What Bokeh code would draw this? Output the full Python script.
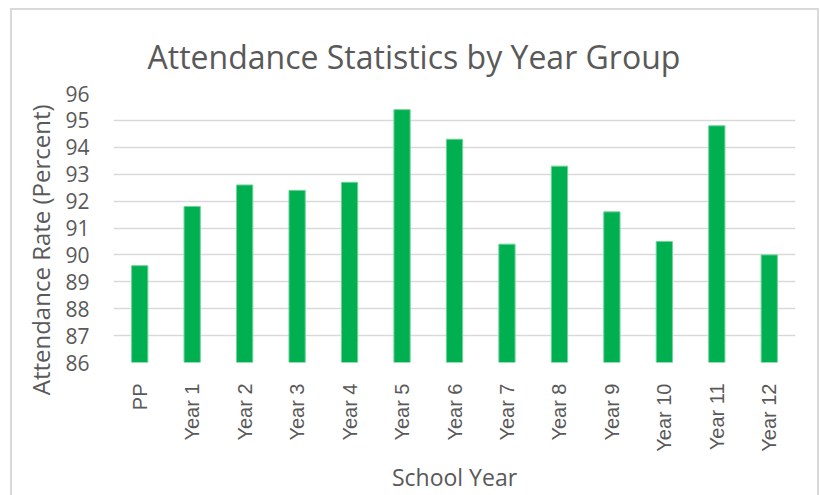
from math import pi
from bokeh.plotting import figure
from bokeh.models import ColumnDataSource, FixedTicker, Range1d, LinearAxis
from bokeh.embed import file_html
from bokeh.resources import INLINE

categories = ["PP", "Year 1", "Year 2", "Year 3", "Year 4", "Year 5", "Year 6",
              "Year 7", "Year 8", "Year 9", "Year 10", "Year 11", "Year 12"]
attendance = [89.6, 91.8, 92.6, 92.4, 92.7, 95.4, 94.3, 90.4, 93.3, 91.6, 90.5, 94.8, 90.0]
y_ticks = [86, 87, 88, 89, 90, 91, 92, 93, 94, 95, 96]

title_text = "Attendance Statistics by Year Group"
x_label = "School Year"
y_label = "Attendance Rate (Percent)"

TXT = "#595959"
GRID = "#d9d9d9"

source = ColumnDataSource(dict(cat=categories, val=attendance))

p = figure(x_range=categories, y_range=Range1d(86, 96),
           frame_width=682, frame_height=269,
           output_backend="svg", toolbar_location=None,
           min_border_left=113, min_border_right=25, min_border_top=93, min_border_bottom=133)

p.vbar(x="cat", top="val", bottom=86, width=0.31, source=source,
       fill_color="#00B050", line_color="#6fd39a", line_width=1)

p.outline_line_color = None
p.background_fill_color = "white"
p.border_fill_color = None
p.styles = {
    "background-color": "white",
    "background-image": ("linear-gradient(#d9d9d9,#d9d9d9), linear-gradient(#d9d9d9,#d9d9d9), "
                         "linear-gradient(#d9d9d9,#d9d9d9)"),
    "background-size": "2px 490px, 809px 2px, 2px 490px",
    "background-position": "10px 8px, 10px 8px, 817px 8px",
    "background-repeat": "no-repeat",
}

p.title.text = title_text
p.title.align = "left"
p.title.offset = 34
p.title.text_font = "Open Sans"
p.title.text_font_size = "32px"
p.title.text_font_style = "normal"
p.title.text_color = TXT
p.title.standoff = 32

p.xgrid.grid_line_color = None
p.ygrid.grid_line_color = GRID
p.ygrid.grid_line_width = 1.5

p.yaxis.ticker = FixedTicker(ticks=y_ticks)
p.yaxis.axis_line_color = None
p.yaxis.major_tick_line_color = None
p.yaxis.minor_tick_line_color = None
p.yaxis.major_label_text_font = "Open Sans"
p.yaxis.major_label_text_font_size = "21px"
p.yaxis.major_label_text_color = TXT
p.yaxis.major_label_standoff = 18

# outer axis carrying only the title text, padded with no-break spaces so it sits lower like the reference
label_axis = LinearAxis(ticker=FixedTicker(ticks=[]),
                        axis_line_color=None, major_tick_line_color=None,
                        minor_tick_line_color=None, major_label_text_font_size="0px",
                        axis_label=y_label + "\u00a0" * 7, axis_label_text_font="Open Sans",
                        axis_label_text_font_size="24px", axis_label_text_font_style="normal",
                        axis_label_text_color=TXT, axis_label_standoff=6)
p.add_layout(label_axis, "left")

p.xaxis.axis_line_color = None
p.xaxis.major_tick_line_color = None
p.xaxis.minor_tick_line_color = None
p.xaxis.major_label_orientation = pi / 2
p.xaxis.major_label_text_font = "Liberation Sans"
p.xaxis.major_label_text_font_size = "20px"
p.xaxis.major_label_text_color = TXT
p.xaxis.major_label_standoff = 15
p.xaxis.axis_label = x_label
p.xaxis.axis_label_text_font = "Open Sans"
p.xaxis.axis_label_text_font_size = "23px"
p.xaxis.axis_label_text_font_style = "normal"
p.xaxis.axis_label_text_color = TXT
p.xaxis.axis_label_standoff = 6

open("out.html", "w").write(file_html(p, INLINE))
